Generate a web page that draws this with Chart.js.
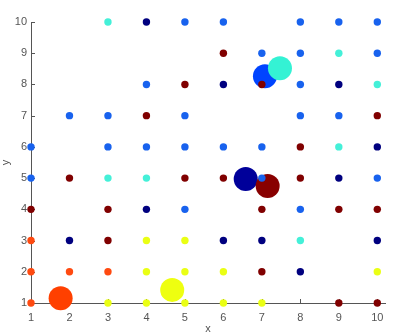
<!DOCTYPE html>
<html>
<head>
<meta charset="utf-8">
<script src="https://cdn.jsdelivr.net/npm/chart.js@4"></script>
<style>
  html, body { margin: 0; padding: 0; background: #fff; }
  #wrap { width: 397px; height: 332px; }
</style>
</head>
<body>
<div id="wrap"><canvas id="bubbleChart"></canvas></div>
<script>
// small grid points, grouped by colour
const blueX = [5, 6, 8, 9, 10, 7, 8, 10, 4, 8, 2, 3, 5, 8, 9, 1, 3, 4, 5, 6, 7, 1, 7, 10, 5, 8];
const blueY = [10, 10, 10, 10, 10, 9, 9, 9, 8, 8, 7, 7, 7, 7, 7, 6, 6, 6, 6, 6, 6, 5, 5, 5, 4, 4];
const cyanX = [3, 9, 10, 9, 3, 4, 8];
const cyanY = [10, 9, 8, 6, 5, 5, 3];
const navyX = [4, 6, 9, 10, 9, 4, 2, 6, 7, 10, 8];
const navyY = [10, 8, 8, 6, 5, 4, 3, 3, 3, 3, 2];
const redX = [6, 5, 7, 4, 10, 8, 2, 5, 6, 8, 1, 3, 7, 9, 10, 3, 7, 9, 10];
const redY = [9, 8, 8, 7, 7, 6, 5, 5, 5, 5, 4, 4, 4, 4, 4, 3, 2, 1, 1];
const yellowX = [4, 5, 4, 5, 6, 10, 3, 4, 5, 6, 7];
const yellowY = [3, 3, 2, 2, 2, 2, 1, 1, 1, 1, 1];
const orangeX = [1, 1, 2, 3, 1];
const orangeY = [3, 2, 2, 2, 1];

// large moving points
const bigX = [1.77, 4.67, 6.58, 7.08, 7.47, 7.15];
const bigY = [1.15, 1.42, 4.97, 8.26, 8.52, 4.75];
const bigColors = ["#ff4000", "#eeff10", "#00009a", "#0044ff", "#34f2d4", "#880000"];

const xTicks = [1, 2, 3, 4, 5, 6, 7, 8, 9, 10];
const yTicks = [1, 2, 3, 4, 5, 6, 7, 8, 9, 10];

const smallR = 3.7;
const bigR = 12;

function pts(xs, ys, r) {
  return xs.map((x, i) => ({ x: x, y: ys[i], r: r }));
}

function smallSet(xs, ys, color) {
  return {
    data: pts(xs, ys, smallR),
    backgroundColor: color,
    borderWidth: 0,
    clip: false,
  };
}

const axisColor = "#555";

// ticks pointing into the plot area
const innerTicks = {
  id: "innerTicks",
  beforeDatasetsDraw(chart) {
    const c = chart.ctx;
    const xs = chart.scales.x;
    const ys = chart.scales.y;
    c.save();
    c.strokeStyle = axisColor;
    c.lineWidth = 1;
    c.beginPath();
    xTicks.forEach(v => {
      const px = Math.round(xs.getPixelForValue(v)) + 0.5;
      c.moveTo(px, ys.bottom);
      c.lineTo(px, ys.bottom - 4);
    });
    yTicks.forEach(v => {
      const py = Math.round(ys.getPixelForValue(v)) + 0.5;
      c.moveTo(xs.left, py);
      c.lineTo(xs.left + 4, py);
    });
    c.stroke();
    c.restore();
  },
};

const config = {
  type: "bubble",
  data: {
    datasets: [
      smallSet(blueX, blueY, "#1862ee"),
      smallSet(cyanX, cyanY, "#44f0d8"),
      smallSet(navyX, navyY, "#00007f"),
      smallSet(redX, redY, "#800000"),
      smallSet(yellowX, yellowY, "#eaff14"),
      smallSet(orangeX, orangeY, "#ff4a10"),
      {
        data: pts(bigX, bigY, bigR),
        backgroundColor: bigColors,
        borderWidth: 0,
        clip: false,
      },
    ],
  },
  options: {
    responsive: true,
    maintainAspectRatio: false,
    animation: false,
    layout: { padding: { top: 22, right: 0, left: 0, bottom: 0 } },
    plugins: {
      legend: { display: false },
      tooltip: { enabled: false },
    },
    scales: {
      x: {
        type: "linear",
        min: 1,
        max: 10.2,
        afterFit(scale) { scale.height = 29; },
        ticks: {
          stepSize: 1,
          includeBounds: false,
          padding: 8,
          color: axisColor,
          font: { family: "Liberation Sans", size: 11 },
        },
        grid: { drawOnChartArea: false, drawTicks: false },
        border: { color: axisColor, width: 1 },
        title: {
          display: true,
          text: "x",
          color: axisColor,
          padding: 0,
          font: { family: "Liberation Sans", size: 11, lineHeight: 0.6 },
        },
      },
      y: {
        type: "linear",
        min: 1,
        max: 10,
        afterFit(scale) { scale.width = 31; },
        ticks: {
          stepSize: 1,
          padding: 4,
          color: axisColor,
          font: { family: "Liberation Sans", size: 11 },
        },
        grid: { drawOnChartArea: false, drawTicks: false },
        border: { color: axisColor, width: 1 },
        title: {
          display: true,
          text: "y",
          color: axisColor,
          padding: 0,
          font: { family: "Liberation Sans", size: 11, lineHeight: 1 },
        },
      },
    },
  },
  plugins: [innerTicks],
};

new Chart(document.getElementById("bubbleChart").getContext("2d"), config);
</script>
</body>
</html>
